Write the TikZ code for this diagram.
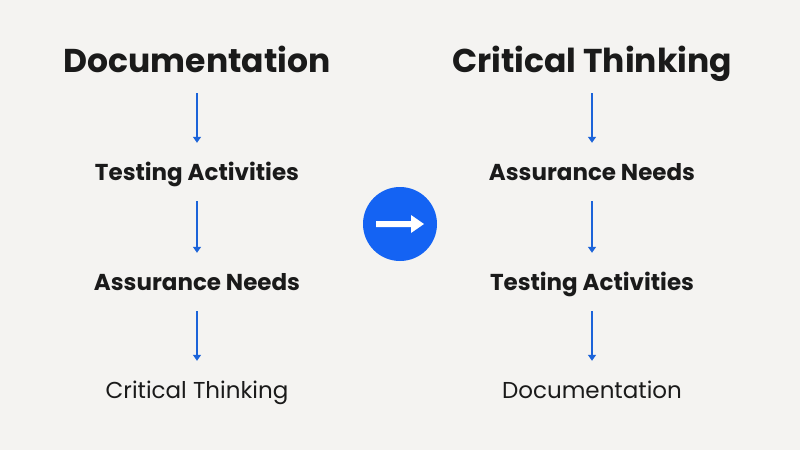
\documentclass[tikz,border=0pt]{standalone}
\usepackage{fontspec}
\setmainfont{Poppins}
\usetikzlibrary{arrows.meta}
\definecolor{paper}{HTML}{F4F3F1}
\definecolor{ink}{HTML}{1A1A1A}
\definecolor{flowblue}{HTML}{1B63D9}
\definecolor{dotblue}{HTML}{1463F3}
\tikzset{
	head/.style={font=\fontsize{33}{36}\selectfont\bfseries, text=ink, inner sep=0pt, anchor=base, text height=25pt, text depth=0pt},
	item/.style={font=\fontsize{23}{26}\selectfont\bfseries, text=ink, inner sep=0pt, anchor=base, text height=17pt, text depth=0pt},
	last/.style={font=\fontsize{23}{26}\selectfont, text=ink, inner sep=0pt, anchor=base, text height=17pt, text depth=0pt},
	flow/.style={draw=flowblue, line width=1.4pt, shorten <=21pt, shorten >=20pt, -{Triangle[length=6pt,width=8pt]}}
}
\begin{document}
\begin{tikzpicture}[x=1pt,y=-1pt]
		\fill[paper] (0,0) rectangle (800,450);
		%% left column
		\node[head] (docA) at (197,72) {Documentation};
		\node[item] (testA) at (197,180) {Testing Activities};
		\node[item] (needA) at (197,290) {Assurance Needs};
		\node[last] (critA) at (197,398) {Critical Thinking};
		\draw[flow] (docA.south) -- (testA.north);
		\draw[flow] (testA.south) -- (needA.north);
		\draw[flow] (needA.south) -- (critA.north);
		%% right column
		\node[head] (critB) at (592,72) {Critical Thinking};
		\node[item] (needB) at (592,180) {Assurance Needs};
		\node[item] (testB) at (592,290) {Testing Activities};
		\node[last] (docB) at (592,398) {Documentation};
		\draw[flow] (critB.south) -- (needB.north);
		\draw[flow] (needB.south) -- (testB.north);
		\draw[flow] (testB.south) -- (docB.north);
		%% the switch
		\node[circle, fill=dotblue, minimum size=74pt, inner sep=0pt] (go) at (400,224) {};
		\fill[white, shift={(go.center)}] (-24,-3) -- (11,-3) -- (11,-9) -- (24,0)
			-- (11,9) -- (11,3) -- (-24,3) -- cycle;
\end{tikzpicture}
\end{document}
